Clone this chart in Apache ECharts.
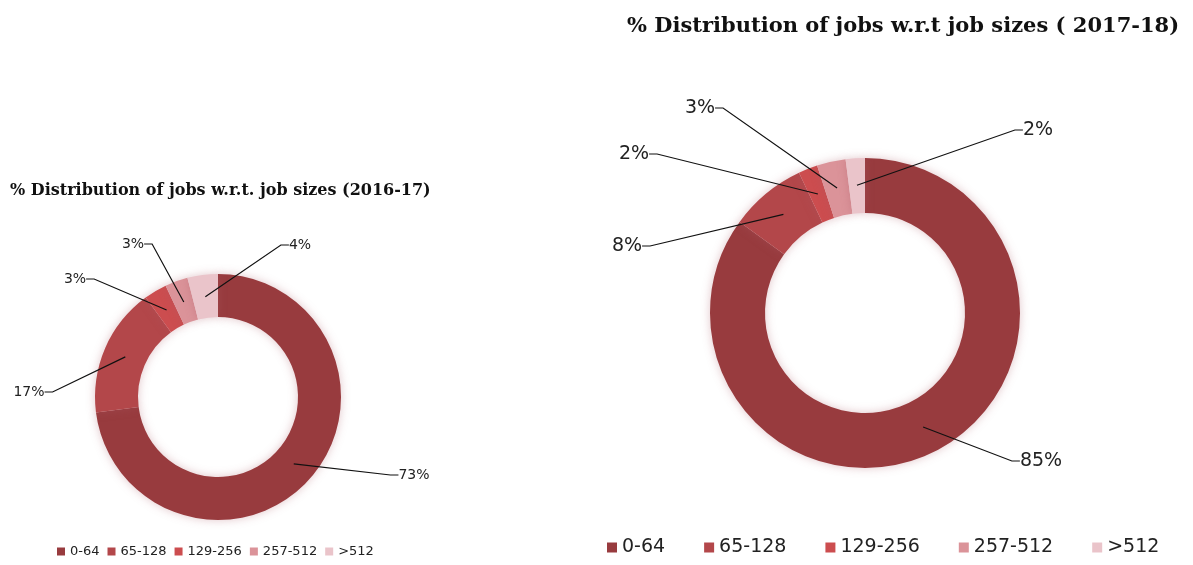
<!DOCTYPE html>
<html>
<head>
<meta charset="utf-8">
<script src="https://cdn.jsdelivr.net/npm/echarts@6/dist/echarts.min.js"></script>
<style>
  html, body { margin: 0; padding: 0; background: #ffffff; }
  #chart { width: 1193px; height: 565px; }
</style>
</head>
<body>
<div id="chart"></div>
<script>
// Job-size buckets and their share of all jobs (%) per year
const categories = ['0-64', '65-128', '129-256', '257-512', '>512'];
const share2016 = [73, 17, 3, 3, 4];
const share2017 = [85, 8, 2, 3, 2];
const titles = [
  '% Distribution of jobs w.r.t. job sizes (2016-17)',
  '% Distribution of jobs w.r.t job sizes ( 2017-18)'
];

// Slice colours, darkest for the smallest jobs
const palette = ['#983B3E', '#B3474A', '#CC4D4F', '#DB9399', '#EAC4CA'];

// Where each callout text sits (px, text centre)
const calloutLeft = [[414, 475], [29, 392], [75, 279], [133, 244], [300, 245]];
const calloutRight = [[1041, 461], [627, 246], [634, 154], [700, 108], [1038, 130]];

const labelFont = '"DejaVu Sans", Verdana, sans-serif';
const titleFont = '"DejaVu Serif", "Liberation Serif", serif';

function toData(values) {
  return categories.map((name, i) => ({ name: name, value: values[i] }));
}

// The visible donut ring
function ring(values, center, inner, outer) {
  return {
    type: 'pie',
    z: 2,
    center: center,
    radius: [inner, outer],
    startAngle: 90,
    clockwise: true,
    avoidLabelOverlap: false,
    label: { show: false },
    labelLine: { show: false },
    emphasis: { disabled: true },
    itemStyle: {
      shadowBlur: 10,
      shadowColor: 'rgba(170, 90, 100, 0.35)'
    },
    data: toData(values)
  };
}

// Invisible pie sized to the middle of the ring; it carries the callouts
// so their leader lines start inside each slice.
function callouts(values, center, midRadius, spots, fontSize) {
  return {
    type: 'pie',
    z: 5,
    center: center,
    radius: [0, midRadius],
    startAngle: 90,
    clockwise: true,
    silent: true,
    avoidLabelOverlap: false,
    itemStyle: { color: 'rgba(0,0,0,0)' },
    emphasis: { disabled: true },
    label: {
      show: true,
      position: 'outside',
      formatter: p => p.value + '%',
      color: '#222',
      fontFamily: labelFont,
      fontSize: fontSize,
      padding: [0, 3]
    },
    labelLine: {
      show: true,
      length: 10,
      length2: 8,
      lineStyle: { color: '#111', width: 1.2 }
    },
    labelLayout: p => ({
      x: spots[p.dataIndex][0],
      y: spots[p.dataIndex][1],
      align: 'center',
      verticalAlign: 'middle'
    }),
    data: toData(values)
  };
}

const chart = echarts.init(document.getElementById('chart'), null, { renderer: 'canvas' });

chart.setOption({
  animation: false,
  color: palette,
  title: [
    {
      text: titles[0],
      left: 5,
      top: 178,
      textStyle: { fontFamily: titleFont, fontWeight: 'bold', fontSize: 16, color: '#111' }
    },
    {
      text: titles[1],
      left: 622,
      top: 11,
      textStyle: { fontFamily: titleFont, fontWeight: 'bold', fontSize: 21, color: '#111' }
    }
  ],
  legend: [
    {
      data: categories,
      left: 52,
      top: 540,
      icon: 'rect',
      itemWidth: 8,
      itemHeight: 8,
      itemGap: 8,
      textStyle: { fontFamily: labelFont, fontSize: 13, color: '#222' }
    },
    {
      data: categories,
      left: 602,
      top: 533,
      icon: 'rect',
      itemWidth: 10,
      itemHeight: 10,
      itemGap: 39,
      textStyle: { fontFamily: labelFont, fontSize: 19, color: '#222' }
    }
  ],
  series: [
    ring(share2016, [218, 397], 80, 123),
    ring(share2017, [865, 313], 100, 155),
    callouts(share2016, [218, 397], 101, calloutLeft, 14),
    callouts(share2017, [865, 313], 128, calloutRight, 19)
  ]
});
</script>
</body>
</html>
